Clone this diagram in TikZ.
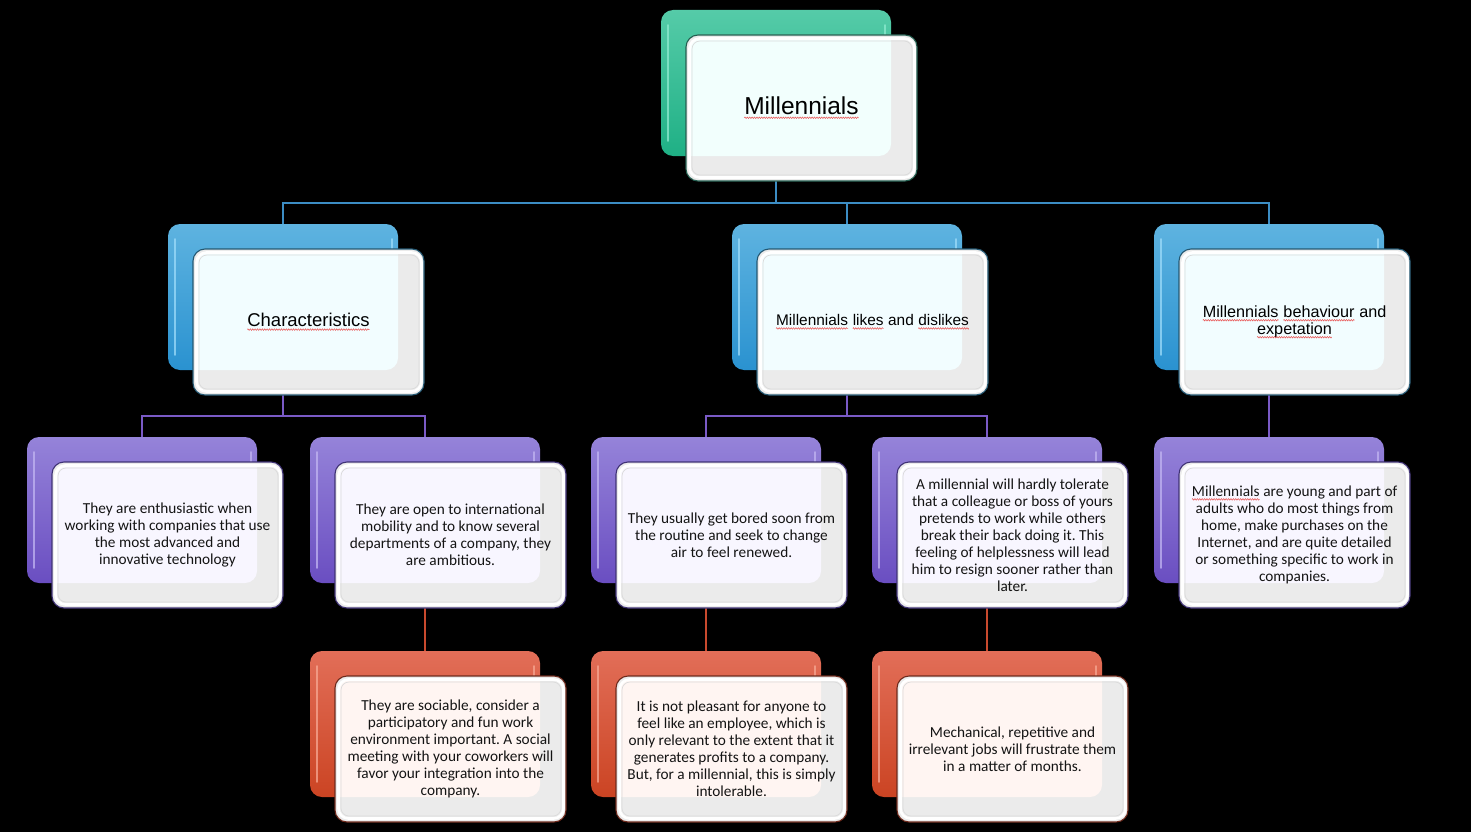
\documentclass[tikz,border=0pt]{standalone}
\usepackage{fontspec}
\setmainfont{Carlito}
\newfontfamily\arialf{Liberation Sans}
\frenchspacing
\usetikzlibrary{decorations.pathmorphing}
\definecolor{wv}{HTML}{E85050}
\newcommand\wavy[1]{\tikz[baseline=(w.base)]{\node[inner sep=0pt, outer sep=0pt] (w) {#1};\draw[wv, line width=0.5pt, decorate, decoration={zigzag, amplitude=0.8pt, segment length=2.4pt}] ([yshift=-2.8pt]w.base west) -- ([yshift=-2.8pt]w.base east);}}
% green
\definecolor{gT}{HTML}{55CBA8}\definecolor{gB}{HTML}{1FB085}\definecolor{gH}{HTML}{8FEBD0}
\definecolor{gD}{HTML}{245F50}\definecolor{gF}{HTML}{F2FFFD}
% blue
\definecolor{bT}{HTML}{5EB3E0}\definecolor{bB}{HTML}{2A92D0}\definecolor{bH}{HTML}{9EDCFA}
\definecolor{bD}{HTML}{245873}\definecolor{bF}{HTML}{F2FDFF}
% purple
\definecolor{pT}{HTML}{9583D9}\definecolor{pB}{HTML}{6A4EC1}\definecolor{pH}{HTML}{C2B6F2}
\definecolor{pD}{HTML}{3F3275}\definecolor{pF}{HTML}{F8F6FF}
% red
\definecolor{rT}{HTML}{E26E58}\definecolor{rB}{HTML}{CB4423}\definecolor{rH}{HTML}{F7A894}
\definecolor{rD}{HTML}{6E2A1C}\definecolor{rF}{HTML}{FFF5F2}
\definecolor{frontgray}{HTML}{EBEBEB}
\definecolor{connB}{HTML}{3C8DC4}
\definecolor{connP}{HTML}{7A5AC6}
\definecolor{connR}{HTML}{C94A2E}
\tikzset{
  backbox/.style={rectangle, rounded corners=12pt, minimum width=230pt, minimum height=146pt, inner sep=0pt, outer sep=0pt},
  frontbox/.style={rectangle, rounded corners=12pt, minimum width=231pt, minimum height=146pt, inner sep=0pt, outer sep=0pt, fill=frontgray, line width=1.1pt},
  conn/.style={line width=1.4pt},
  headtext/.style={align=center, text=black, inner sep=0pt},
  bodytext/.style={font=\fontsize{15.3}{17}\selectfont, align=center, text=black!92, inner sep=0pt},
}
\newcommand\backbox[4]{%
  \node[backbox, top color=#4T, bottom color=#4B] (#1) at (#2+115,#3+73) {};
  \draw[#4H, line width=1.8pt, line cap=round, opacity=.75] (#2+7,#3+15) -- (#2+7,#3+131);
  \draw[#4H, line width=1.8pt, line cap=round, opacity=.75] (#2+224,#3+15) -- (#2+224,#3+40);
}
\newcommand\frontbox[6]{%
  \node[frontbox, draw=#4D] (#1f) at (#2+140.5,#3+98) {};
  \begin{scope}
    \clip[rounded corners=10pt] (#2+28,#3+28) rectangle (#2+253,#3+168);
    \fill[#4F, rounded corners=12pt] (#2,#3) rectangle (#2+230,#3+146);
  \end{scope}
  \draw[white, line width=2.6pt, rounded corners=10pt] (#2+28.5,#3+28.5) rectangle (#2+253.5,#3+167.5);
  \draw[black!14, line width=.7pt, rounded corners=8pt] (#2+31,#3+31) rectangle (#2+251,#3+165);
  \node[#5] (#1t) at (#1f) {#6};
}
\begin{document}
\begin{tikzpicture}[x=1pt,y=-1pt]
\useasboundingbox (0,0) rectangle (1471,832);
\fill[black] (0,0) rectangle (1471,832);
% back boxes
\backbox{top}{661}{10}{g}
\backbox{b1}{168}{224}{b}
\backbox{b2}{732}{224}{b}
\backbox{b3}{1154}{224}{b}
\backbox{p1}{27}{437}{p}
\backbox{p2}{310}{437}{p}
\backbox{p3}{591}{437}{p}
\backbox{p4}{872}{437}{p}
\backbox{p5}{1154}{437}{p}
\backbox{r1}{310}{651}{r}
\backbox{r2}{591}{651}{r}
\backbox{r3}{872}{651}{r}
% connectors
\draw[conn, connB] (top.south) -- ++(0,47) -| (b1.north);
\draw[conn, connB] (top.south) -- ++(0,47) -| (b2.north);
\draw[conn, connB] (top.south) -- ++(0,47) -| (b3.north);
\draw[conn, connP] (b1.south) -- ++(0,46) -| (p1.north);
\draw[conn, connP] (b1.south) -- ++(0,46) -| (p2.north);
\draw[conn, connP] (b2.south) -- ++(0,46) -| (p3.north);
\draw[conn, connP] (b2.south) -- ++(0,46) -| (p4.north);
\draw[conn, connP] (b3.south) -- (p5.north);
\draw[conn, connR] (p2.south) -- (r1.north);
\draw[conn, connR] (p3.south) -- (r2.north);
\draw[conn, connR] (p4.south) -- (r3.north);
% front boxes with text
\frontbox{top}{661}{10}{g}{headtext, font=\arialf\fontsize{24.5}{28}\selectfont}{\wavy{Millennials}}
\frontbox{b1}{168}{224}{b}{headtext, font=\arialf\fontsize{18.5}{21}\selectfont}{\wavy{Characteristics}}
\frontbox{b2}{732}{224}{b}{headtext, font=\arialf\fontsize{15.4}{17}\selectfont}{\wavy{Millennials} \wavy{likes} and \wavy{dislikes}}
\frontbox{b3}{1154}{224}{b}{headtext, font=\arialf\fontsize{16.2}{17}\selectfont}{\wavy{Millennials} \wavy{behaviour} and\\\wavy{expetation}}
\frontbox{p1}{27}{437}{p}{bodytext}{They are enthusiastic when\\working with companies that use\\the most advanced and\\innovative technology}
\frontbox{p2}{310}{437}{p}{bodytext}{They are open to international\\mobility and to know several\\departments of a company, they\\are ambitious.}
\frontbox{p3}{591}{437}{p}{bodytext}{They usually get bored soon from\\the routine and seek to change\\air to feel renewed.}
\frontbox{p4}{872}{437}{p}{bodytext}{A millennial will hardly tolerate\\that a colleague or boss of yours\\pretends to work while others\\break their back doing it. This\\feeling of helplessness will lead\\him to resign sooner rather than\\later.}
\frontbox{p5}{1154}{437}{p}{bodytext}{\wavy{Millennials} are young and part of\\adults who do most things from\\home, make purchases on the\\Internet, and are quite detailed\\or something specific to work in\\companies.}
\frontbox{r1}{310}{651}{r}{bodytext}{They are sociable, consider a\\participatory and fun work\\environment important. A social\\meeting with your coworkers will\\favor your integration into the\\company.}
\frontbox{r2}{591}{651}{r}{bodytext}{It is not pleasant for anyone to\\feel like an employee, which is\\only relevant to the extent that it\\generates profits to a company.\\But, for a millennial, this is simply\\intolerable.}
\frontbox{r3}{872}{651}{r}{bodytext}{Mechanical, repetitive and\\irrelevant jobs will frustrate them\\in a matter of months.}
\end{tikzpicture}
\end{document}
